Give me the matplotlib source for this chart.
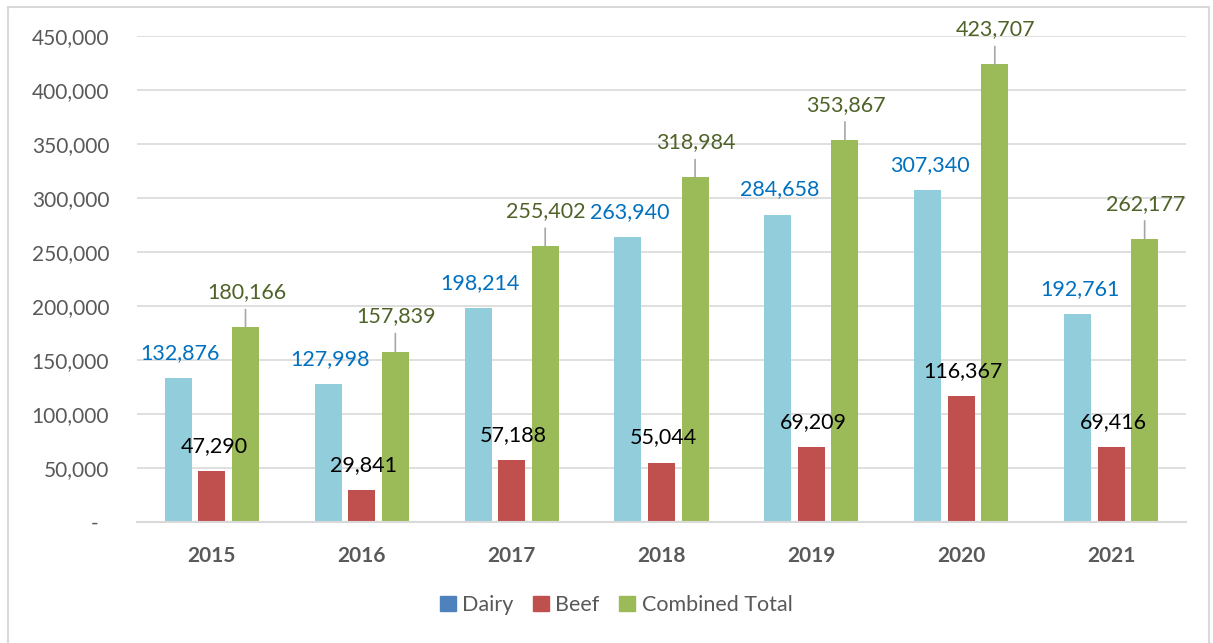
import numpy as np
import matplotlib.pyplot as plt
from matplotlib.patches import Rectangle, Patch

years = ["2015", "2016", "2017", "2018", "2019", "2020", "2021"]
dairy = [132876, 127998, 198214, 263940, 284658, 307340, 192761]
beef = [47290, 29841, 57188, 55044, 69209, 116367, 69416]
combined = [180166, 157839, 255402, 318984, 353867, 423707, 262177]
yticks = [0, 50000, 100000, 150000, 200000, 250000, 300000, 350000, 400000, 450000]

plt.rcParams['font.family'] = ['Lato', 'DejaVu Sans']

fig = plt.figure(figsize=(12.13, 6.43), dpi=100)
W, H = 1213, 643
ax = fig.add_axes([137 / W, 121 / H, (1186 - 137) / W, (522 - 36) / H])

# outer frame of the chart
fig.patches.append(Rectangle((8 / W, -0.05), (1209 - 8) / W, 1.05 - 7 / H,
                             transform=fig.transFigure, fill=False,
                             edgecolor="#D9D9D9", linewidth=1.5))

x = np.arange(len(years))
w = 0.18
off = 0.224
ax.bar(x - off, dairy, w, color="#92CDDC", zorder=3)
ax.bar(x, beef, w, color="#C0504D", zorder=3)
ax.bar(x + off, combined, w, color="#9BBB59", zorder=3)

# data labels
for xi, v in zip(x - off, dairy):
    ax.annotate(f"{v:,}", (xi, v), xytext=(2, 25), textcoords="offset pixels",
                ha="center", va="center", fontsize=15.5, color="#0070C0", zorder=5)
for xi, v in zip(x, beef):
    ax.annotate(f"{v:,}", (xi, v), xytext=(2, 25), textcoords="offset pixels",
                ha="center", va="center", fontsize=15.5, color="black", zorder=5)
for xi, v in zip(x + off, combined):
    ax.annotate(f"{v:,}", (xi, v), xytext=(1, 35), textcoords="offset pixels",
                ha="center", va="center", fontsize=15.5, color="#4F6228", zorder=5)
    ax.annotate("", (xi, v), xytext=(0, 18), textcoords="offset pixels",
                arrowprops=dict(arrowstyle="-", color="#A6A6A6", lw=1.2,
                                shrinkA=0, shrinkB=0), zorder=4)

ax.set_xlim(-0.5, len(years) - 0.5)
ax.set_ylim(0, 450000)
ax.set_yticks(yticks)
ax.set_yticklabels([f"{t:,}" if t else "-  " for t in yticks])
ax.set_xticks(x)
ax.set_xticklabels(years, fontweight="bold")
ax.tick_params(axis="y", length=0, pad=20, labelsize=15, labelcolor="#595959")
ax.tick_params(axis="x", length=0, pad=17, labelsize=15, labelcolor="#595959")
ax.grid(axis="y", color="#D9D9D9", linewidth=1.2, zorder=0)
for s in ["top", "right", "left"]:
    ax.spines[s].set_visible(False)
ax.spines["bottom"].set_color("#D9D9D9")
ax.spines["bottom"].set_linewidth(1.5)
ax.spines["bottom"].set_zorder(4)

handles = [Patch(color="#4F81BD"), Patch(color="#C0504D"), Patch(color="#9BBB59")]
fig.legend(handles, ["Dairy", "Beef", "Combined Total"], loc="center",
           bbox_to_anchor=(616 / W, 1 - 605 / H), ncol=3, frameon=False,
           fontsize=15.5, labelcolor="#595959", handlelength=0.75, handleheight=0.75,
           handletextpad=0.3, columnspacing=0.9)

fig.savefig("out.png", dpi=100)
